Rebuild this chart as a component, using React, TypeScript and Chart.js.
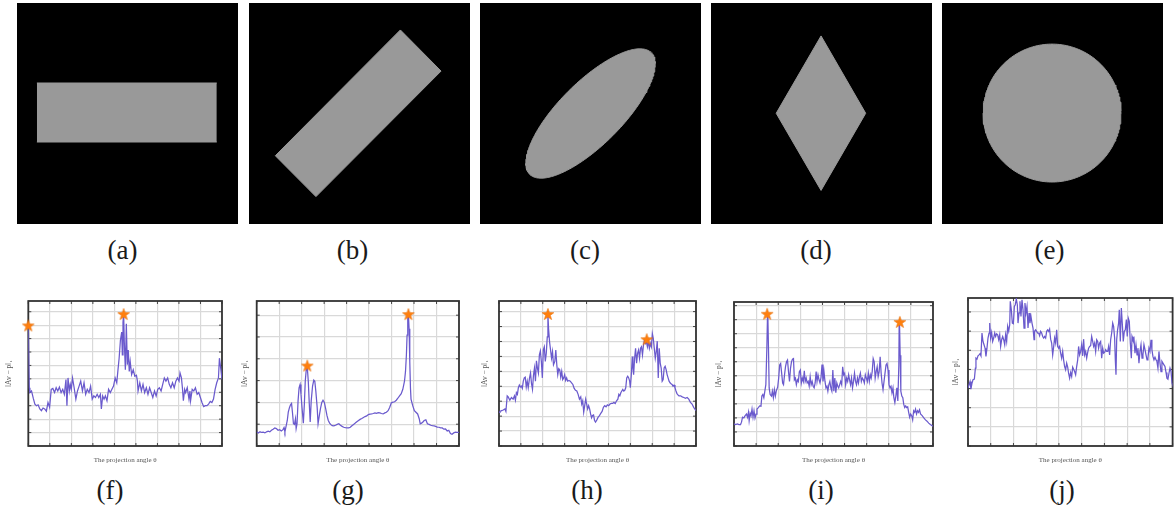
import React, { useEffect, useRef } from "react";
import { Chart, registerables } from "chart.js";

Chart.register(...registerables);

// ---------------- shape images (a)-(e), unit square, y downwards ----------------
const SHAPE_LABELS = ["(a)", "(b)", "(c)", "(d)", "(e)"];
const CURVE_LABELS = ["(f)", "(g)", "(h)", "(i)", "(j)"];

// convex shapes given by an upper and a lower boundary chain (x increasing)
const RECT_A_UPPER = [[0.09, 0.362], [0.904, 0.362]];
const RECT_A_LOWER = [[0.09, 0.629], [0.904, 0.629]];
const RECT_B_UPPER = [[0.119, 0.691], [0.685, 0.122], [0.869, 0.308]];
const RECT_B_LOWER = [[0.119, 0.691], [0.303, 0.876], [0.869, 0.308]];
const DIAMOND_D_UPPER = [[0.295, 0.499], [0.498, 0.149], [0.7, 0.499]];
const DIAMOND_D_LOWER = [[0.295, 0.499], [0.498, 0.848], [0.7, 0.499]];
// ellipse: centre x, centre y, semi-major, semi-minor, tilt (deg)
const ELLIPSE_C = [0.5, 0.5, 0.389, 0.142, 45];
// circle: centre x, centre y, radius
const CIRCLE_E = [0.498, 0.498, 0.312];

// ---------------- projection curves (f)-(j): [angle deg, ||Av-p||_1] ----------------
const X_TITLE = "The projection angle θ";
const Y_TITLE = "‖Av − p‖₁";

const F_SERIES = [[0.0,8.98],[0.9,4.34],[1.5,3.98],[3.0,4.10],[4.6,3.56],[6.1,3.12],[7.6,3.00],[9.1,3.07],[10.7,2.76],[12.2,2.63],[13.7,2.83],[15.2,2.76],[16.8,2.59],[18.3,3.24],[19.8,2.88],[21.3,4.22],[22.8,4.29],[24.4,3.98],[25.9,4.34],[27.4,4.10],[28.9,4.39],[30.5,3.98],[32.0,4.22],[33.5,3.85],[35.0,4.95],[35.9,3.00],[36.9,5.07],[38.1,4.10],[39.0,4.59],[39.9,4.22],[41.1,5.07],[42.6,4.34],[44.2,3.49],[45.7,4.10],[47.2,4.46],[48.7,4.83],[50.3,4.10],[51.8,4.71],[53.3,3.85],[54.8,4.22],[56.4,3.98],[57.9,4.46],[59.4,3.49],[60.9,3.73],[62.4,3.61],[64.0,3.85],[65.5,3.61],[67.0,3.85],[67.9,2.76],[69.1,3.73],[70.4,3.49],[71.6,3.73],[73.1,3.37],[74.6,4.22],[76.2,3.98],[77.7,4.22],[79.2,4.46],[80.7,5.07],[82.2,4.71],[83.2,5.56],[84.4,6.54],[85.6,7.88],[86.8,8.49],[87.4,6.78],[88.0,9.22],[88.6,9.83],[89.2,7.76],[90.2,5.68],[91.1,9.10],[92.0,6.05],[92.9,7.15],[93.8,5.56],[94.7,6.29],[96.0,5.32],[97.5,5.68],[99.0,5.20],[100.5,5.27],[101.4,4.83],[102.0,4.10],[103.6,4.71],[105.1,4.10],[106.6,4.59],[108.1,3.98],[109.7,4.34],[111.2,3.85],[112.7,4.34],[114.2,3.98],[115.7,3.61],[117.3,4.10],[118.8,3.73],[120.3,4.22],[121.8,4.34],[123.4,4.10],[124.9,4.59],[126.4,5.07],[127.9,4.83],[129.5,5.07],[131.0,4.59],[132.5,4.34],[134.0,4.71],[135.6,4.34],[137.1,4.83],[138.6,5.07],[140.1,4.83],[141.0,5.44],[142.3,5.07],[143.2,4.34],[144.1,3.37],[145.3,4.22],[146.2,3.98],[147.7,4.34],[149.3,3.49],[150.2,4.10],[150.8,3.37],[152.3,4.22],[153.8,4.10],[155.3,4.34],[156.9,3.85],[158.4,3.98],[159.9,3.61],[161.4,3.24],[163.0,2.93],[164.5,3.00],[166.0,3.00],[167.5,3.12],[169.1,3.32],[170.6,3.24],[172.1,3.49],[173.6,4.22],[175.1,4.71],[176.7,5.07],[177.6,6.54],[178.8,5.80],[180.0,4.95]];
const F_STARS = [[0.0, 8.98], [88.6, 9.83]];
const F_YMAX = 10.8;

const G_SERIES = [[0.0,0.65],[1.5,0.60],[2.9,0.65],[4.4,0.62],[5.8,0.63],[7.3,0.60],[8.8,0.65],[10.2,0.68],[11.7,0.65],[13.1,0.72],[14.6,0.77],[16.1,0.83],[17.5,0.80],[19.0,0.72],[20.5,0.75],[21.9,0.69],[23.4,0.75],[24.3,0.84],[25.1,0.65],[26.3,0.95],[27.2,1.17],[28.1,1.55],[29.2,1.77],[30.1,1.89],[31.0,1.95],[31.8,1.55],[32.7,1.02],[33.6,0.99],[34.5,1.25],[35.1,0.80],[35.9,1.02],[36.8,2.07],[37.7,2.67],[38.6,2.82],[39.4,2.37],[40.3,1.77],[41.5,1.05],[42.4,1.92],[43.2,2.97],[44.1,3.50],[45.0,3.62],[45.9,2.97],[46.8,1.92],[47.6,1.10],[48.5,2.07],[49.7,2.75],[50.8,3.02],[51.7,2.97],[52.6,2.52],[53.8,1.77],[54.6,1.02],[55.5,1.32],[56.7,1.70],[57.9,2.00],[59.0,2.10],[60.2,2.00],[61.4,1.70],[62.5,1.40],[63.7,1.17],[64.9,1.05],[66.0,0.98],[67.2,0.93],[68.7,0.92],[70.1,0.95],[71.6,0.99],[73.1,1.02],[74.5,0.95],[76.0,0.90],[77.4,0.86],[78.9,0.84],[80.4,0.83],[81.8,0.83],[83.3,0.86],[84.7,0.93],[86.2,0.99],[87.7,1.05],[89.1,1.11],[90.6,1.17],[92.0,1.22],[93.5,1.26],[95.0,1.31],[96.4,1.35],[97.9,1.38],[99.3,1.44],[100.8,1.46],[102.3,1.47],[103.7,1.49],[105.2,1.52],[106.7,1.50],[108.1,1.53],[109.6,1.52],[111.0,1.49],[112.5,1.47],[114.0,1.52],[115.4,1.55],[116.9,1.62],[118.3,1.77],[119.8,1.98],[121.3,2.01],[122.7,2.03],[124.2,2.10],[125.6,2.19],[127.1,2.30],[128.6,2.40],[130.0,2.60],[131.5,2.97],[132.4,3.42],[133.2,4.17],[133.8,5.08],[134.4,5.83],[135.0,6.02],[135.6,5.38],[136.2,3.87],[136.8,2.67],[137.3,2.15],[138.8,1.85],[140.3,1.62],[141.7,1.55],[143.2,1.47],[144.6,1.25],[145.5,1.02],[146.7,1.05],[147.9,1.10],[149.0,1.17],[150.5,1.20],[151.9,1.02],[153.4,0.99],[154.9,0.95],[156.3,0.93],[157.8,0.92],[159.2,0.90],[160.7,0.87],[162.2,0.86],[163.6,0.83],[165.1,0.83],[166.5,0.77],[168.0,0.78],[169.5,0.69],[170.9,0.72],[172.4,0.57],[173.8,0.54],[175.3,0.60],[176.8,0.63],[178.2,0.62],[180.0,0.63]];
const G_STARS = [[45.0, 3.69], [135.0, 6.05]];
const G_YMAX = 6.65;

const H_SERIES = [[0.0,2.26],[0.9,2.32],[2.4,2.37],[3.9,2.41],[5.4,2.48],[6.3,2.32],[7.5,3.36],[8.4,3.29],[9.9,3.07],[11.4,3.25],[12.9,3.14],[14.1,3.36],[15.0,3.07],[15.9,3.57],[16.8,3.46],[17.7,3.90],[18.6,4.08],[19.5,3.95],[20.4,4.01],[21.3,3.86],[22.2,4.34],[23.1,4.56],[24.0,4.61],[24.9,3.95],[25.8,4.34],[26.7,3.90],[27.9,4.56],[28.8,4.89],[29.7,4.17],[30.6,3.79],[31.5,4.74],[32.4,5.22],[33.3,4.34],[34.2,5.70],[35.1,5.22],[36.0,4.89],[36.9,6.10],[37.8,6.36],[38.7,5.66],[39.6,4.56],[40.5,6.43],[41.4,6.64],[42.3,5.66],[43.2,6.21],[44.1,7.30],[44.7,8.79],[45.3,7.85],[46.2,6.97],[47.1,6.43],[48.0,5.88],[48.9,6.32],[49.8,5.44],[51.0,5.66],[51.9,6.43],[52.8,5.44],[53.7,4.78],[54.6,5.18],[55.5,5.11],[56.4,4.61],[57.3,5.00],[58.2,4.45],[59.1,4.56],[60.0,4.78],[60.9,4.39],[61.8,4.56],[62.7,4.34],[63.9,4.39],[65.1,4.34],[66.3,4.23],[67.5,4.12],[68.7,3.86],[69.9,3.73],[71.1,3.68],[72.3,3.46],[73.5,3.14],[74.7,3.29],[75.6,2.81],[76.5,3.03],[77.4,2.26],[78.3,2.70],[79.2,3.14],[80.1,2.81],[81.0,2.48],[81.9,2.70],[82.8,2.48],[83.7,2.15],[84.6,1.89],[85.5,2.04],[86.4,2.08],[87.3,1.71],[88.2,1.60],[89.4,1.75],[90.6,1.93],[91.8,2.04],[93.0,2.19],[94.2,2.32],[95.4,2.59],[96.6,2.70],[97.8,2.63],[99.0,2.76],[100.2,2.70],[101.4,2.81],[102.6,2.85],[103.8,2.85],[105.0,2.92],[106.2,2.85],[107.4,3.03],[108.6,3.14],[109.5,3.46],[110.4,3.36],[111.3,3.57],[112.2,3.68],[113.1,3.79],[114.0,3.68],[114.9,3.73],[115.8,3.90],[116.7,4.56],[117.6,4.67],[118.5,4.56],[119.4,4.34],[120.0,3.90],[120.9,4.78],[121.8,5.99],[122.4,5.22],[123.0,4.78],[123.9,5.88],[124.8,6.54],[125.7,5.55],[126.6,6.21],[127.5,6.43],[128.4,5.88],[129.3,6.54],[130.2,6.64],[131.1,6.10],[132.0,6.75],[132.9,7.08],[133.8,6.86],[134.7,6.97],[135.6,6.64],[136.5,7.02],[137.4,6.54],[138.3,6.86],[139.2,6.64],[140.1,7.52],[141.0,7.19],[141.9,6.54],[142.8,5.88],[143.7,6.32],[144.6,7.02],[145.5,4.56],[146.4,6.54],[147.3,5.55],[148.2,5.22],[149.1,4.34],[150.0,4.45],[150.9,5.22],[151.8,5.33],[152.7,5.11],[153.6,4.78],[154.5,4.56],[155.4,4.34],[156.3,4.23],[157.2,4.17],[158.1,4.12],[159.0,4.01],[159.9,4.08],[160.8,3.90],[161.7,3.68],[162.6,3.51],[163.5,3.42],[164.4,3.36],[165.9,3.36],[167.4,3.29],[168.9,3.25],[170.4,3.20],[171.9,3.25],[173.4,3.14],[174.9,2.92],[176.4,2.81],[177.9,2.59],[180.0,2.37]];
const H_STARS = [[44.7, 8.84], [135.0, 7.15]];
const H_YMAX = 9.71;

const I_SERIES = [[0.0,1.58],[1.5,1.53],[3.0,1.58],[4.5,1.53],[5.9,1.53],[6.8,1.70],[7.7,2.05],[8.9,2.00],[10.1,2.16],[11.3,2.28],[12.2,2.05],[13.1,2.40],[13.7,1.81],[14.6,2.33],[15.4,2.16],[16.3,2.63],[17.2,2.05],[18.1,2.51],[19.0,2.00],[19.9,2.28],[20.8,2.63],[22.0,2.74],[23.2,2.86],[24.4,2.84],[25.2,3.56],[26.1,3.67],[27.0,3.44],[27.9,3.91],[28.8,4.37],[29.7,6.93],[30.3,9.26],[30.6,9.37],[31.2,6.93],[31.8,4.14],[32.7,3.67],[33.9,3.56],[34.7,3.91],[35.6,3.44],[36.5,4.02],[37.4,3.56],[38.3,3.95],[39.5,4.19],[40.4,4.84],[41.3,5.77],[42.2,5.88],[43.1,5.19],[44.0,4.49],[44.8,4.37],[45.7,5.07],[46.6,5.65],[47.5,6.00],[48.4,6.12],[49.3,5.30],[50.2,4.60],[51.1,5.53],[52.0,6.00],[52.9,6.19],[53.8,6.23],[54.6,4.72],[55.5,4.84],[56.4,4.37],[57.3,4.72],[58.2,4.60],[59.1,5.30],[60.0,5.42],[60.9,4.49],[61.8,4.84],[62.7,4.60],[63.6,5.35],[64.4,4.60],[65.3,4.84],[66.2,4.49],[67.1,4.60],[68.0,4.26],[68.9,4.95],[69.8,4.37],[70.7,4.60],[71.6,4.26],[72.5,4.14],[73.4,4.49],[74.3,5.30],[75.1,4.60],[76.0,5.07],[76.9,4.72],[77.8,4.49],[78.7,4.88],[79.6,5.81],[80.5,4.60],[81.4,5.30],[82.3,4.60],[83.2,4.14],[84.1,4.26],[84.9,3.91],[85.8,4.37],[86.7,4.60],[87.6,4.14],[88.5,3.91],[89.4,5.42],[90.3,3.91],[91.2,4.84],[92.1,3.79],[93.0,4.49],[93.9,4.26],[94.7,4.14],[95.6,4.37],[96.5,4.60],[97.4,4.37],[98.3,5.65],[99.2,5.07],[100.1,5.19],[101.0,4.37],[101.9,4.84],[102.8,4.60],[103.7,5.07],[104.5,4.72],[105.4,4.37],[106.3,4.84],[107.2,4.14],[108.1,4.60],[109.0,5.19],[109.9,4.60],[110.8,4.37],[111.7,4.84],[112.6,4.49],[113.5,4.95],[114.3,5.19],[115.2,4.60],[116.1,4.84],[117.0,4.72],[117.9,4.49],[118.8,5.07],[119.7,4.84],[120.6,4.60],[121.5,5.19],[122.4,4.60],[123.3,5.07],[124.1,4.84],[125.0,5.30],[125.9,6.23],[126.8,6.00],[127.7,4.84],[128.6,5.30],[129.5,5.65],[130.4,4.95],[131.3,5.30],[132.2,6.35],[133.1,5.19],[133.9,4.49],[134.8,4.02],[135.7,4.60],[136.6,5.19],[137.5,5.77],[138.4,5.88],[139.3,5.42],[140.2,4.37],[141.1,4.14],[142.0,4.26],[142.9,3.79],[143.8,4.14],[144.6,3.44],[145.5,3.09],[146.4,3.56],[147.3,4.14],[148.2,3.21],[149.1,5.77],[149.4,8.67],[149.7,8.79],[150.3,6.47],[150.9,3.91],[151.8,3.56],[152.7,3.44],[153.5,2.98],[154.4,2.74],[155.3,2.86],[156.2,2.74],[157.1,2.79],[158.0,2.40],[158.9,2.05],[159.8,2.28],[160.7,2.16],[161.6,1.86],[162.5,2.51],[163.4,2.40],[164.2,2.63],[165.1,2.28],[166.0,2.51],[166.9,2.40],[167.8,2.58],[168.7,2.28],[170.2,2.16],[171.7,2.00],[173.2,1.86],[174.6,1.77],[176.1,1.63],[177.6,1.53],[180.0,1.40]];
const I_STARS = [[30.0, 9.42], [150.0, 8.84]];
const I_YMAX = 10.26;

const J_SERIES = [[0.0,3.02],[0.9,3.19],[1.8,3.37],[2.6,2.97],[3.5,3.28],[4.4,3.46],[5.6,3.49],[6.5,4.07],[7.0,4.59],[7.9,4.54],[8.8,4.71],[9.7,4.76],[10.6,4.82],[11.4,4.71],[12.3,5.90],[13.2,5.46],[14.1,5.29],[15.0,5.11],[15.8,4.68],[16.7,5.11],[17.6,5.64],[18.5,5.90],[19.1,6.42],[19.9,5.64],[20.8,5.93],[21.7,5.46],[22.6,5.64],[23.5,5.90],[24.3,5.72],[25.2,5.86],[26.1,5.81],[27.0,5.55],[27.9,5.81],[28.7,5.20],[29.6,5.55],[30.5,5.72],[31.4,5.55],[32.3,5.29],[33.1,5.81],[34.0,5.46],[34.9,6.25],[35.8,5.99],[36.7,6.34],[37.2,7.56],[38.1,7.12],[39.0,6.42],[39.9,6.39],[40.8,7.29],[41.6,7.38],[42.5,7.68],[43.4,7.38],[44.0,6.42],[44.9,6.95],[45.7,7.56],[46.6,6.77],[47.5,7.64],[48.4,7.12],[49.3,6.16],[50.1,7.47],[51.0,6.95],[51.9,7.29],[52.8,6.16],[53.7,6.95],[54.5,6.42],[55.4,6.77],[56.3,6.42],[57.2,6.16],[58.1,5.55],[58.6,5.99],[59.5,6.07],[60.4,5.99],[61.3,5.90],[62.2,5.90],[63.0,5.76],[63.9,5.99],[64.8,5.90],[65.7,5.72],[66.6,5.64],[67.4,5.72],[68.3,5.64],[69.2,5.99],[70.1,6.07],[71.0,5.99],[71.8,6.11],[72.7,5.58],[73.6,5.38],[74.5,4.76],[75.4,5.20],[76.2,5.64],[77.1,5.38],[78.0,6.07],[78.9,5.20],[79.8,5.11],[80.6,5.20],[81.5,4.85],[82.4,4.59],[83.3,4.94],[84.1,4.50],[85.0,4.15],[85.9,3.98],[86.8,4.33],[87.7,4.12],[88.5,3.80],[89.4,3.54],[90.3,3.84],[91.2,3.63],[92.1,4.12],[92.9,4.01],[93.8,3.89],[94.7,3.72],[95.6,4.15],[96.5,4.50],[97.3,5.20],[98.2,4.76],[99.1,4.94],[100.0,5.29],[100.9,4.71],[101.7,5.58],[102.6,4.76],[103.5,4.94],[104.4,4.59],[105.3,4.89],[106.1,5.11],[107.0,5.20],[107.9,5.24],[108.8,5.72],[109.7,5.46],[110.5,5.20],[111.4,5.38],[112.3,4.94],[113.2,5.55],[114.1,5.46],[114.9,5.11],[115.8,5.38],[116.7,5.46],[117.6,4.59],[118.5,5.11],[119.3,4.85],[120.2,4.89],[121.1,5.03],[122.0,4.94],[122.9,4.94],[123.7,5.20],[124.6,4.76],[125.5,5.55],[126.4,5.90],[127.3,6.42],[128.1,6.25],[129.0,5.64],[129.6,4.50],[130.2,3.72],[130.8,5.55],[131.6,6.07],[132.5,6.42],[133.1,7.12],[134.0,5.46],[134.9,7.21],[135.8,6.34],[136.6,5.46],[137.5,5.99],[138.4,6.07],[139.3,6.60],[140.1,5.72],[141.0,6.68],[141.9,6.51],[142.8,5.38],[143.7,4.59],[144.3,5.72],[145.1,5.55],[146.0,5.64],[146.9,4.85],[147.8,5.29],[148.7,4.76],[149.5,5.11],[150.4,4.33],[151.3,4.94],[152.2,5.29],[153.1,4.59],[153.9,4.76],[154.8,5.29],[155.7,5.03],[156.6,4.76],[157.5,4.50],[158.3,4.59],[159.2,5.11],[160.1,4.94],[161.0,5.55],[161.8,5.03],[162.7,4.68],[163.6,4.50],[164.5,4.64],[165.4,4.50],[166.2,4.42],[167.1,4.07],[168.0,4.94],[168.9,4.33],[169.8,3.89],[170.6,4.42],[171.5,4.33],[172.4,4.24],[173.3,4.15],[174.2,3.84],[175.0,3.54],[175.9,3.49],[176.8,3.80],[177.7,4.07],[178.6,3.89],[179.5,3.28],[180.0,3.19]];
const J_STARS: number[][] = [];
const J_YMAX = 7.73;

// ---------------- styling ----------------
const SHAPE_GRAY = "#999999";
const LINE_COLOR = "#6a5acd";
const STAR_COLOR = "#ff7f0e";
const GRID_COLOR = "#d9d9d9";
const FRAME_COLOR = "#333333";
const AXIS_TEXT = "#555555";
const SERIF = "'Liberation Serif', 'Times New Roman', serif";

const SHAPE_PANELS = [
  { left: 17, upper: RECT_A_UPPER, lower: RECT_A_LOWER },
  { left: 249, upper: RECT_B_UPPER, lower: RECT_B_LOWER },
  { left: 480, ellipse: ELLIPSE_C },
  { left: 711, upper: DIAMOND_D_UPPER, lower: DIAMOND_D_LOWER },
  { left: 942, ellipse: [CIRCLE_E[0], CIRCLE_E[1], CIRCLE_E[2], CIRCLE_E[2], 0] },
];
const SHAPE_LABEL_X = [122.5, 352.5, 585, 816, 1049.5];

const CURVE_PANELS = [
  { series: F_SERIES, stars: F_STARS, ymax: F_YMAX, boxL: 28.3, boxR: 225.3, boxT: 298.3, titleX: 9 },
  { series: G_SERIES, stars: G_STARS, ymax: G_YMAX, boxL: 256.7, boxR: 462, boxT: 298.3, titleX: 245 },
  { series: H_SERIES, stars: H_STARS, ymax: H_YMAX, boxL: 499, boxR: 699, boxT: 298.3, titleX: 485 },
  { series: I_SERIES, stars: I_STARS, ymax: I_YMAX, boxL: 734, boxR: 936, boxT: 299, titleX: 719 },
  { series: J_SERIES, stars: J_STARS, ymax: J_YMAX, boxL: 967.7, boxR: 1172.3, boxT: 298.3, titleX: 955.7 },
];
const CURVE_LABEL_X = [110, 348, 587, 821, 1062];

const toPoints = (arr: number[][]) => arr.map(([x, y]) => ({ x, y }));

// split the outline of an (optionally tilted) ellipse into two x-monotone chains
function ellipseChains(p: number[]) {
  const [cx, cy, a, b, deg] = p;
  const th = (deg * Math.PI) / 180;
  const n = 240;
  const pts: { x: number; y: number }[] = [];
  for (let k = 0; k < n; k++) {
    const t = (2 * Math.PI * k) / n;
    const ux = a * Math.cos(t);
    const uy = b * Math.sin(t);
    pts.push({
      x: cx + ux * Math.cos(th) - uy * Math.sin(th),
      y: cy - (ux * Math.sin(th) + uy * Math.cos(th)),
    });
  }
  let iMin = 0;
  let iMax = 0;
  pts.forEach((q, i) => {
    if (q.x < pts[iMin].x) iMin = i;
    if (q.x > pts[iMax].x) iMax = i;
  });
  const chainA: { x: number; y: number }[] = [];
  const chainB: { x: number; y: number }[] = [];
  for (let i = iMin; ; i = (i + 1) % n) {
    chainA.push(pts[i]);
    if (i === iMax) break;
  }
  for (let i = iMin; ; i = (i - 1 + n) % n) {
    chainB.push(pts[i]);
    if (i === iMax) break;
  }
  return [chainA, chainB];
}

const blackBackground = {
  id: "blackBackground",
  beforeDraw(chart: any) {
    const { ctx, chartArea } = chart;
    ctx.save();
    ctx.fillStyle = "#000000";
    ctx.fillRect(chartArea.left, chartArea.top, chartArea.width, chartArea.height);
    ctx.restore();
  },
};

const frameAndTicks = {
  id: "frameAndTicks",
  beforeDatasetsDraw(chart: any) {
    const { ctx, chartArea, scales } = chart;
    const { left, right, top, bottom } = chartArea;
    ctx.save();
    ctx.strokeStyle = FRAME_COLOR;
    ctx.lineWidth = 0.9;
    const len = 3;
    ctx.beginPath();
    scales.x.ticks.forEach((t: any) => {
      const px = scales.x.getPixelForValue(t.value);
      ctx.moveTo(px, bottom);
      ctx.lineTo(px, bottom - len);
      ctx.moveTo(px, top);
      ctx.lineTo(px, top + len);
    });
    scales.y.ticks.forEach((t: any) => {
      const py = scales.y.getPixelForValue(t.value);
      ctx.moveTo(left, py);
      ctx.lineTo(left + len, py);
      ctx.moveTo(right, py);
      ctx.lineTo(right - len, py);
    });
    ctx.stroke();
    ctx.lineWidth = 1.8;
    ctx.strokeRect(left, top, right - left, bottom - top);
    ctx.restore();
  },
};

function makeStar(): HTMLCanvasElement {
  const c = document.createElement("canvas");
  const s = 14;
  c.width = s;
  c.height = s;
  const g = c.getContext("2d")!;
  const R = 6.2;
  const r = 2.5;
  g.beginPath();
  for (let k = 0; k < 10; k++) {
    const ang = -Math.PI / 2 + (k * Math.PI) / 5;
    const rad = k % 2 === 0 ? R : r;
    const x = s / 2 + rad * Math.cos(ang);
    const y = s / 2 + 0.6 + rad * Math.sin(ang);
    if (k === 0) g.moveTo(x, y);
    else g.lineTo(x, y);
  }
  g.closePath();
  g.fillStyle = STAR_COLOR;
  g.fill();
  g.strokeStyle = "#e8700a";
  g.lineWidth = 0.6;
  g.stroke();
  return c;
}

function ShapePanel({ panel }: { panel: any }) {
  const ref = useRef<HTMLCanvasElement>(null);
  useEffect(() => {
    let chainA: any[];
    let chainB: any[];
    if (panel.ellipse) {
      [chainA, chainB] = ellipseChains(panel.ellipse);
    } else {
      chainA = toPoints(panel.upper);
      chainB = toPoints(panel.lower);
    }
    const chart = new Chart(ref.current!, {
      type: "scatter",
      data: {
        datasets: [
          {
            type: "line",
            data: chainA,
            showLine: true,
            fill: "+1",
            backgroundColor: SHAPE_GRAY,
            borderColor: SHAPE_GRAY,
            borderWidth: 1,
            pointRadius: 0,
            tension: 0,
          } as any,
          {
            type: "line",
            data: chainB,
            showLine: true,
            fill: false,
            backgroundColor: SHAPE_GRAY,
            borderColor: SHAPE_GRAY,
            borderWidth: 1,
            pointRadius: 0,
            tension: 0,
          } as any,
        ],
      },
      options: {
        animation: false,
        responsive: false,
        events: [],
        layout: { padding: 0 },
        plugins: { legend: { display: false }, tooltip: { enabled: false } },
        scales: {
          x: { type: "linear", min: 0, max: 1, display: false },
          y: { type: "linear", min: 0, max: 1, reverse: true, display: false },
        },
      },
      plugins: [blackBackground],
    });
    return () => chart.destroy();
  }, []);
  return (
    <canvas
      ref={ref}
      width={221}
      height={221}
      style={{ position: "absolute", left: panel.left, top: 3, width: 221, height: 221 }}
    />
  );
}

function CurvePanel({ panel }: { panel: any }) {
  const ref = useRef<HTMLCanvasElement>(null);
  const canvasLeft = panel.titleX - 6;
  const canvasTop = panel.boxT - 4;
  const canvasBottom = 472;
  const width = Math.round(panel.boxR + 4 - canvasLeft);
  const height = Math.round(canvasBottom - canvasTop);
  useEffect(() => {
    const star = makeStar();
    const xFont = 7;
    const yFont = 7.5;
    const xLineH = xFont * 1.2;
    const yLineH = yFont * 1.2;
    const chart = new Chart(ref.current!, {
      type: "scatter",
      data: {
        datasets: [
          {
            type: "scatter",
            data: toPoints(panel.stars),
            pointStyle: star,
            pointRadius: 6,
            clip: false,
            order: 0,
          } as any,
          {
            type: "line",
            data: toPoints(panel.series),
            borderColor: LINE_COLOR,
            borderWidth: 1.25,
            pointRadius: 0,
            tension: 0,
            fill: false,
            order: 1,
          } as any,
        ],
      },
      options: {
        animation: false,
        responsive: false,
        events: [],
        layout: { padding: { left: 0, top: 4, right: width - (panel.boxR - canvasLeft), bottom: 0 } },
        plugins: { legend: { display: false }, tooltip: { enabled: false } },
        scales: {
          x: {
            type: "linear",
            min: 0,
            max: 180,
            ticks: { display: false, stepSize: 20, includeBounds: false },
            grid: { color: GRID_COLOR, lineWidth: 1.2, drawTicks: false },
            border: { display: false },
            title: {
              display: true,
              text: X_TITLE,
              color: AXIS_TEXT,
              font: { family: SERIF, size: xFont, lineHeight: 1.2 },
              padding: { top: canvasBottom - 446 - xLineH - 7.8, bottom: 7.8 },
            },
          },
          y: {
            type: "linear",
            min: 0,
            max: panel.ymax,
            ticks: { display: false, stepSize: 1, includeBounds: false },
            grid: { color: GRID_COLOR, lineWidth: 1.2, drawTicks: false },
            border: { display: false },
            title: {
              display: true,
              text: Y_TITLE,
              color: AXIS_TEXT,
              font: { family: SERIF, size: yFont, lineHeight: 1.2 },
              padding: { top: 6 - yLineH / 2, bottom: panel.boxL - canvasLeft - 6 - yLineH / 2 },
            },
          },
        },
      },
      plugins: [frameAndTicks],
    });
    return () => chart.destroy();
  }, []);
  return (
    <canvas
      ref={ref}
      width={width}
      height={height}
      style={{ position: "absolute", left: canvasLeft, top: canvasTop, width, height }}
    />
  );
}

const labelStyle = (x: number, y: number): React.CSSProperties => ({
  position: "absolute",
  left: x,
  top: y,
  transform: "translate(-50%, -50%)",
  fontFamily: SERIF,
  fontSize: 27,
  lineHeight: 1,
  color: "#1a1a1a",
  whiteSpace: "nowrap",
});

export default function App() {
  return (
    <div
      style={{
        position: "absolute",
        left: 0,
        top: 0,
        width: 1175,
        height: 508,
        background: "#ffffff",
        overflow: "hidden",
      }}
    >
      {SHAPE_PANELS.map((p, i) => (
        <ShapePanel key={"s" + i} panel={p} />
      ))}
      {SHAPE_LABELS.map((t, i) => (
        <div key={"sl" + i} style={labelStyle(SHAPE_LABEL_X[i], 250)}>
          {t}
        </div>
      ))}
      {CURVE_PANELS.map((p, i) => (
        <CurvePanel key={"c" + i} panel={p} />
      ))}
      {CURVE_LABELS.map((t, i) => (
        <div key={"cl" + i} style={labelStyle(CURVE_LABEL_X[i], 490)}>
          {t}
        </div>
      ))}
    </div>
  );
}
